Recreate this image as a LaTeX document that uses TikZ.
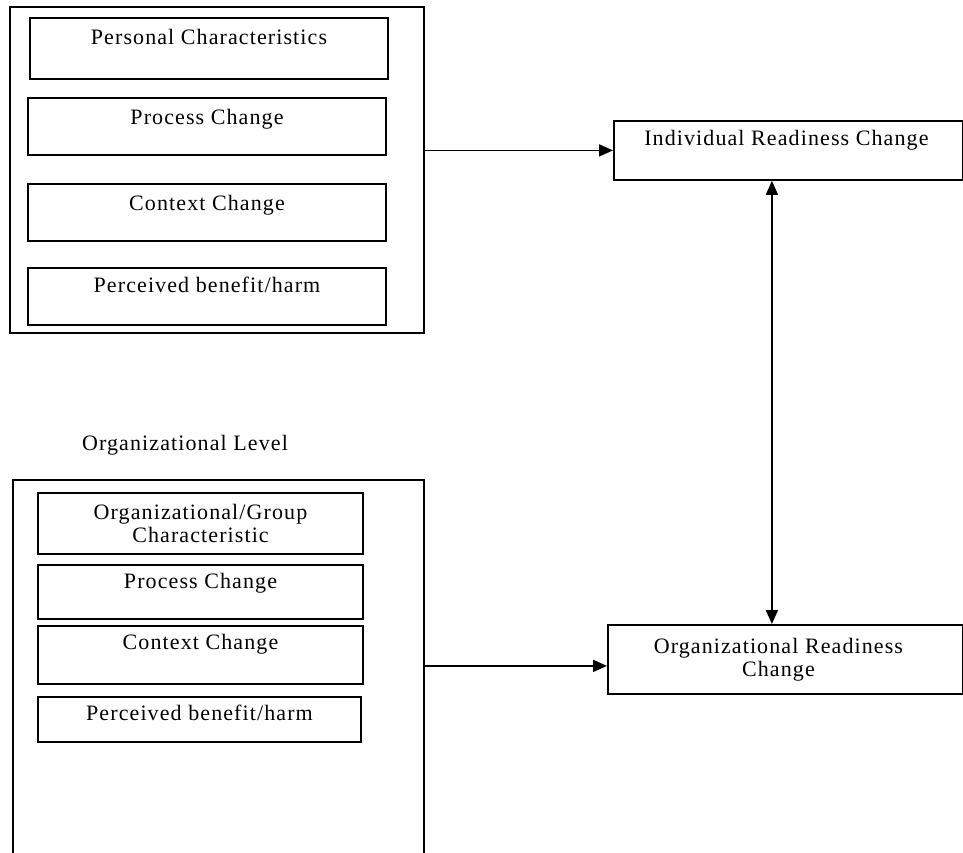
\documentclass[tikz,border=0pt]{standalone}
\usepackage{fontspec}
\setmainfont[LetterSpace=5]{Liberation Serif}
\usetikzlibrary{arrows.meta}
\begin{document}
\begin{tikzpicture}[x=1pt,y=-1pt,
  every node/.style={font=\fontsize{22}{23}\selectfont},
  outerbox/.style={draw, line width=1.7pt, anchor=north west, inner sep=0pt},
  inbox/.style={draw, line width=2pt, anchor=north west, inner sep=0pt},
  rbox/.style={draw, line width=1.8pt, anchor=north west, inner sep=0pt},
  txt/.style={anchor=base, inner sep=0pt, align=center},
  arr/.style={line width=1.7pt, -{Triangle[length=14pt,width=12pt]}},
  darr/.style={line width=1.7pt, {Triangle[length=14pt,width=12pt]}-{Triangle[length=14pt,width=12pt]}}
]
\useasboundingbox (0,0) rectangle (963,852);
\fill[white] (0,0) rectangle (963,852);

% upper group
\node[outerbox, minimum width=414pt, minimum height=326pt] (up) at (9,6) {};
\node[inbox, minimum width=358pt, minimum height=61pt,
  label={[txt, yshift=-27pt]north:Personal Characteristics}] (pc) at (29,17) {};
\node[inbox, minimum width=358pt, minimum height=57pt,
  label={[txt, yshift=-27pt]north:Process Change}] (pra) at (27,97) {};
\node[inbox, minimum width=358pt, minimum height=57pt,
  label={[txt, yshift=-27pt]north:Context Change}] (cca) at (27,183) {};
\node[inbox, minimum width=358pt, minimum height=57pt,
  label={[txt, yshift=-25pt]north:Perceived benefit/harm}] (pba) at (27,267) {};

% lower group
\node[txt] (lvl) at (185,450) {Organizational Level};
\node[outerbox, minimum width=411pt, minimum height=401pt] (lo) at (12,479) {};
\node[inbox, minimum width=325pt, minimum height=61pt,
  label={[txt, yshift=-50pt]north:Organizational/Group\\Characteristic}] (og) at (37,492) {};
\node[inbox, minimum width=325pt, minimum height=54pt,
  label={[txt, yshift=-24pt]north:Process Change}] (prb) at (37,564) {};
\node[inbox, minimum width=325pt, minimum height=58pt,
  label={[txt, yshift=-24pt]north:Context Change}] (ccb) at (37,625) {};
\node[inbox, minimum width=323pt, minimum height=45pt,
  label={[txt, yshift=-24pt]north:Perceived benefit/harm}] (pbb) at (37,696) {};

% readiness boxes
\node[rbox, minimum width=349pt, minimum height=59pt,
  label={[txt, yshift=-25pt, xshift=-2pt]north:Individual Readiness Change}] (irc) at (613,120) {};
\node[rbox, minimum width=355pt, minimum height=69pt,
  label={[txt, yshift=-52pt, xshift=-7pt]north:Organizational Readiness\\Change}] (orc) at (607,624) {};

% connectors
\coordinate (orcin) at ([yshift=-6.5pt]orc.west);
\coordinate (irctop) at ([xshift=-16.5pt]irc.south);
\draw[arr] (up.east |- irc.west) -- (irc.west);
\draw[arr] (lo.east |- orcin) -- (orcin);
\draw[darr] (irctop) -- (irctop |- orc.north);
\end{tikzpicture}
\end{document}
